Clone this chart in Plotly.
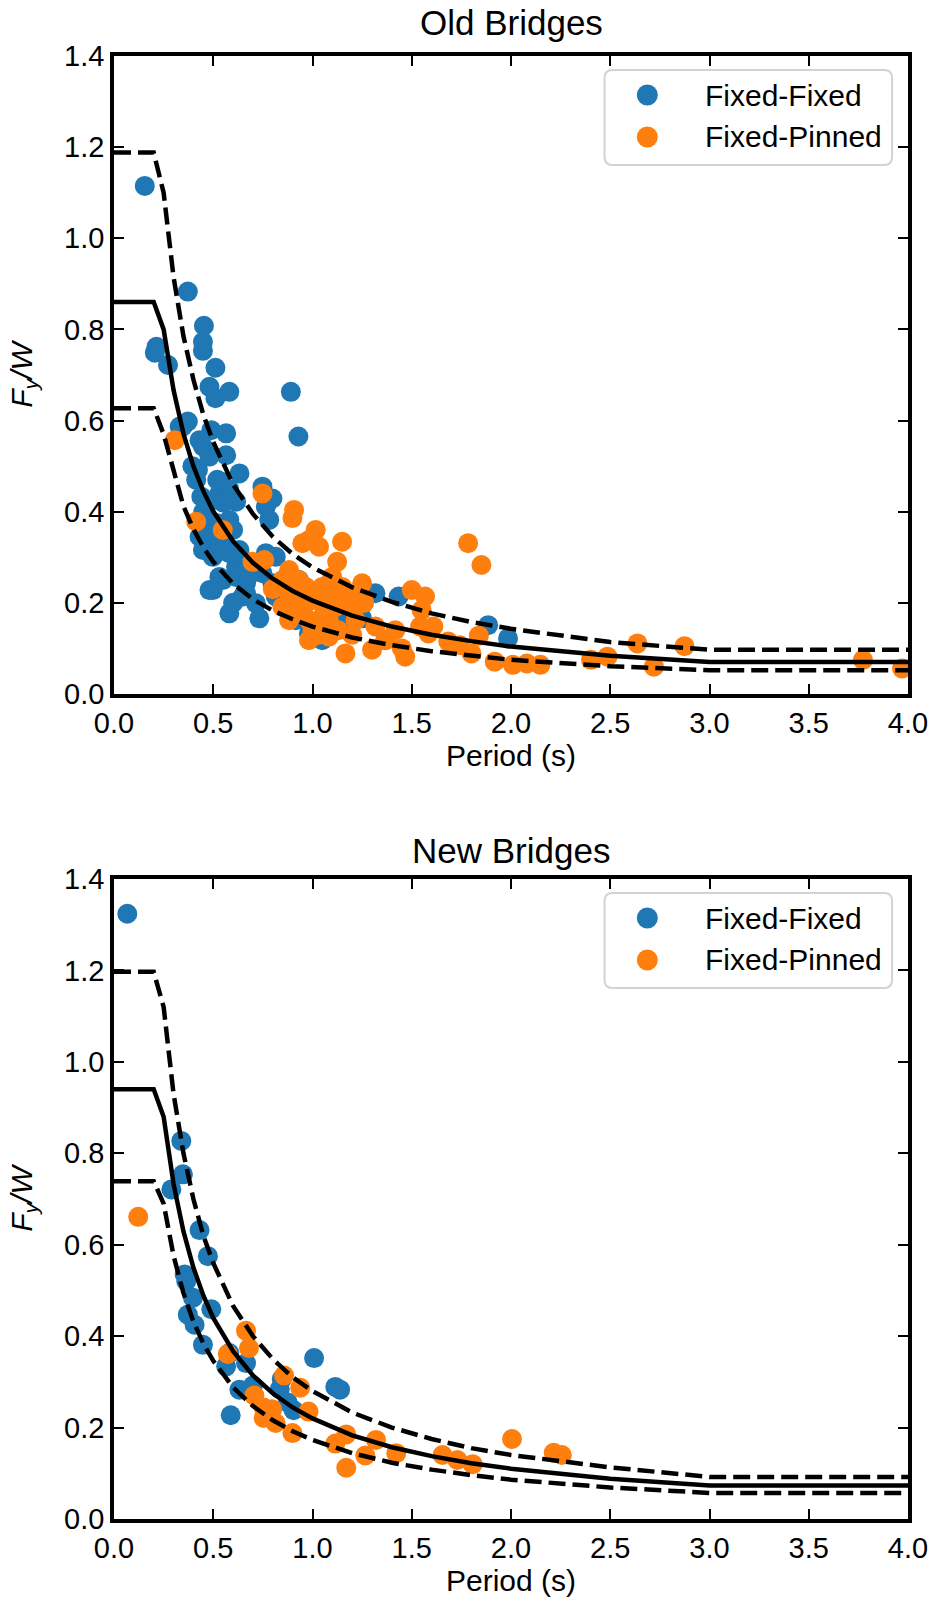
import plotly.graph_objects as go

# ---------------- data ----------------
# Periods at which the fitted strength curves are tabulated (s)
period_grid = [0.0, 0.2, 0.25, 0.3, 0.35, 0.4, 0.45, 0.5, 0.6, 0.7, 0.8, 0.9,
               1.0, 1.2, 1.4, 1.6, 1.8, 2.0, 2.5, 3.0, 4.0]

# Old bridges: median fit and +/- band
old_mean = [0.86, 0.86, 0.80, 0.667, 0.571, 0.50, 0.445, 0.401, 0.335, 0.288, 0.253, 0.226,
            0.205, 0.172, 0.148, 0.130, 0.116, 0.104, 0.084, 0.070, 0.070]
old_upper = [1.188, 1.188, 1.10, 0.915, 0.785, 0.69, 0.613, 0.553, 0.46, 0.395, 0.345, 0.307,
             0.278, 0.234, 0.202, 0.177, 0.158, 0.143, 0.114, 0.097, 0.097]
old_lower = [0.627, 0.627, 0.57, 0.49, 0.412, 0.362, 0.322, 0.29, 0.242, 0.208, 0.183, 0.164,
             0.148, 0.124, 0.107, 0.094, 0.084, 0.075, 0.061, 0.052, 0.052]

# New bridges: median fit and +/- band
new_mean = [0.94, 0.94, 0.88, 0.733, 0.629, 0.55, 0.489, 0.44, 0.367, 0.314, 0.275, 0.244,
            0.22, 0.183, 0.157, 0.1375, 0.122, 0.11, 0.088, 0.0733, 0.0733]
new_upper = [1.197, 1.197, 1.12, 0.93, 0.80, 0.70, 0.62, 0.56, 0.466, 0.40, 0.35, 0.31,
             0.28, 0.233, 0.20, 0.175, 0.155, 0.14, 0.113, 0.092, 0.092]
new_lower = [0.739, 0.739, 0.69, 0.576, 0.494, 0.432, 0.384, 0.346, 0.288, 0.247, 0.216, 0.192,
             0.173, 0.144, 0.123, 0.108, 0.096, 0.086, 0.069, 0.057, 0.057]

# Old bridges, Fixed-Fixed columns: period (s) and Fy/W
old_ff_T = [0.155, 0.372, 0.453, 0.448, 0.448, 0.214, 0.206, 0.272, 0.511, 0.481, 0.581, 0.511,
            0.891, 0.929, 0.372, 0.331, 0.49, 0.565, 0.448, 0.565, 0.423, 0.632, 0.414, 0.54,
            0.748, 0.531, 0.44, 0.615, 0.798, 0.765, 0.782, 0.581, 0.47, 0.431, 0.448, 0.565,
            0.498, 0.598, 0.815, 0.748, 0.615, 0.531, 0.481, 0.548, 0.665, 0.648, 0.581, 0.732,
            0.815, 0.932, 0.916, 0.982, 1.049, 1.317, 1.434, 1.367, 1.25, 0.431, 0.481, 0.515,
            0.465, 0.515, 0.531, 0.581, 0.632, 0.765, 0.498, 0.615, 0.665, 0.715, 0.798, 1.885,
            1.985, 1.066, 0.60, 1.10, 1.15, 0.95, 0.347, 0.395,
            0.50, 0.55, 0.45, 0.60, 0.52, 0.58, 0.68]
old_ff_fy = [1.115, 0.883, 0.808, 0.773, 0.753, 0.762, 0.749, 0.722, 0.716, 0.674, 0.663, 0.649,
             0.663, 0.565, 0.598, 0.587, 0.579, 0.572, 0.543, 0.524, 0.492, 0.484, 0.47, 0.466,
             0.455, 0.44, 0.433, 0.422, 0.429, 0.411, 0.382, 0.382, 0.37, 0.345, 0.316, 0.323,
             0.301, 0.309, 0.301, 0.265, 0.279, 0.257, 0.228, 0.25, 0.243, 0.214, 0.177, 0.166,
             0.214, 0.25, 0.162, 0.133, 0.118, 0.221, 0.214, 0.118, 0.166, 0.557, 0.521, 0.426,
             0.389, 0.375, 0.331, 0.309, 0.316, 0.309, 0.228, 0.257, 0.221, 0.199, 0.243, 0.151,
             0.122, 0.126, 0.20, 0.14, 0.16, 0.20, 0.587, 0.50,
             0.35, 0.42, 0.40, 0.36, 0.47, 0.45, 0.26]

# Old bridges, Fixed-Pinned columns
old_fp_T = [0.306, 0.414, 0.548, 0.748, 0.698, 0.757, 0.907, 0.899, 1.016, 0.982, 0.949, 1.033,
            1.149, 1.124, 1.099, 0.882, 0.849, 1.25, 1.233, 1.149, 1.049, 0.966, 0.882, 0.849,
            0.916, 1.016, 1.116, 0.882, 0.982, 1.083, 1.217, 1.317, 0.982, 1.083, 1.166, 1.30,
            1.467, 1.417, 1.50, 1.567, 1.55, 1.609, 1.542, 1.584, 1.784, 1.851, 1.367, 1.684,
            1.743, 1.801, 1.838, 1.918, 2.01, 2.08, 2.148, 2.403, 2.486, 2.637, 2.72, 2.874,
            3.773, 3.97, 1.45, 0.89, 0.95, 1.05, 1.0, 1.2, 1.15, 1.26, 0.80,
            1.05, 1.10, 0.93, 1.20, 1.13, 1.03, 1.25, 0.97]
old_fp_fy = [0.557, 0.378, 0.36, 0.44, 0.29, 0.294, 0.404, 0.386, 0.36, 0.338, 0.331, 0.323,
             0.334, 0.29, 0.257, 0.272, 0.25, 0.243, 0.221, 0.235, 0.235, 0.235, 0.221, 0.191,
             0.191, 0.206, 0.191, 0.162, 0.162, 0.162, 0.162, 0.148, 0.118, 0.126, 0.089, 0.097,
             0.082, 0.14, 0.228, 0.214, 0.184, 0.148, 0.148, 0.133, 0.331, 0.283, 0.118, 0.115,
             0.107, 0.089, 0.128, 0.071, 0.064, 0.067, 0.064, 0.075, 0.082, 0.111, 0.06, 0.105,
             0.075, 0.056, 0.10, 0.21, 0.18, 0.20, 0.14, 0.13, 0.21, 0.20, 0.23,
             0.17, 0.22, 0.25, 0.19, 0.14, 0.13, 0.20, 0.20]

# New bridges, Fixed-Fixed columns
new_ff_T = [0.067, 0.339, 0.347, 0.289, 0.431, 0.473, 0.356, 0.364, 0.398, 0.49, 0.372, 0.406,
            0.448, 0.565, 0.665, 0.632, 0.70, 0.835, 1.008, 1.115, 1.139, 0.588, 0.905, 0.845,
            0.875, 0.581]
new_ff_fy = [1.324, 0.827, 0.754, 0.721, 0.632, 0.575, 0.535, 0.52, 0.484, 0.459, 0.447, 0.425,
             0.381, 0.334, 0.341, 0.283, 0.292, 0.284, 0.352, 0.289, 0.283, 0.227, 0.238, 0.306,
             0.255, 0.363]

# New bridges, Fixed-Pinned columns
new_fp_T = [0.122, 0.665, 0.68, 0.573, 0.857, 0.938, 0.707, 0.754, 0.754, 0.797, 0.814, 0.899,
            0.98, 1.115, 1.17, 1.17, 1.266, 1.32, 1.422, 1.655, 1.73, 1.807, 2.005, 2.215, 2.256]
new_fp_fy = [0.661, 0.412, 0.374, 0.361, 0.314, 0.287, 0.27, 0.244, 0.221, 0.24, 0.21, 0.188,
             0.235, 0.165, 0.185, 0.112, 0.139, 0.173, 0.144, 0.14, 0.129, 0.12, 0.175, 0.145, 0.14]

panel_titles = ["Old Bridges", "New Bridges"]
series_names = ["Fixed-Fixed", "Fixed-Pinned"]
x_ticks = [0.0, 0.5, 1.0, 1.5, 2.0, 2.5, 3.0, 3.5, 4.0]
y_ticks = [0.0, 0.2, 0.4, 0.6, 0.8, 1.0, 1.2, 1.4]

# ---------------- style / layout ----------------
BLUE = "#1f77b4"
ORANGE = "#ff7f0e"
FONT = "Liberation Sans, Arial, Helvetica, sans-serif"

W, H = 940, 1604
ML, MR, MT, MB = 114, 28, 56, 85
PLOT_W = W - ML - MR
PLOT_H = H - MT - MB


def px_x(p):
    return (p - ML) / PLOT_W


def px_y(p):
    return (H - MB - p) / PLOT_H


# pixel rows of each panel's plot area (top, bottom)
panel_rows = [(56, 694), (879, 1519)]

panels = [
    dict(ff=(old_ff_T, old_ff_fy), fp=(old_fp_T, old_fp_fy),
         curves=(old_lower, old_mean, old_upper)),
    dict(ff=(new_ff_T, new_ff_fy), fp=(new_fp_T, new_fp_fy),
         curves=(new_lower, new_mean, new_upper)),
]

fig = go.Figure()

for i, pnl in enumerate(panels):
    xa = "x" if i == 0 else "x2"
    ya = "y" if i == 0 else "y2"
    for (tv, fv), color, name in zip((pnl["ff"], pnl["fp"]), (BLUE, ORANGE), series_names):
        fig.add_trace(go.Scatter(
            x=tv, y=fv, mode="markers", name=name, showlegend=False,
            marker=dict(size=20, color=color, line=dict(width=0)),
            xaxis=xa, yaxis=ya, cliponaxis=True))
    lower, mean, upper = pnl["curves"]
    for vals, dash in ((lower, "17px,7px"), (mean, "solid"), (upper, "17px,7px")):
        fig.add_trace(go.Scatter(
            x=period_grid, y=vals, mode="lines", showlegend=False,
            line=dict(color="black", width=4.5, dash=dash),
            xaxis=xa, yaxis=ya))

axis_common = dict(
    showline=True, linewidth=3.5, linecolor="black", mirror="ticks",
    ticks="inside", ticklen=10, tickwidth=2, tickcolor="black",
    showgrid=False, zeroline=False,
    tickfont=dict(family=FONT, size=29, color="black"),
)

layout = dict(
    width=W, height=H, autosize=False,
    margin=dict(l=ML, r=MR, t=MT, b=MB, pad=0),
    paper_bgcolor="white", plot_bgcolor="white",
    font=dict(family=FONT, color="black"),
    showlegend=False,
)

for i, (top, bot) in enumerate(panel_rows):
    sfx = "" if i == 0 else "2"
    layout["xaxis" + sfx] = dict(
        axis_common, domain=[0, 1], anchor="y" + sfx, range=[0, 4],
        tickmode="array", tickvals=x_ticks, ticktext=[f"{v:.1f}" for v in x_ticks],
        title=dict(text="Period (s)", font=dict(family=FONT, size=30, color="black"), standoff=6),
    )
    layout["yaxis" + sfx] = dict(
        axis_common, domain=[px_y(bot), px_y(top)], anchor="x" + sfx, range=[0, 1.4],
        tickmode="array", tickvals=y_ticks, ticktext=[f"{v:.1f}" for v in y_ticks],
        title=dict(text="<i>F</i><sub><i>y</i></sub><i>/W</i>",
                   font=dict(family=FONT, size=30, color="black"), standoff=24),
    )

fig.update_layout(**layout)

annotations = []
shapes = []
title_centres = [22.5, 850]


def rounded_box(x0, y0, x1, y1, r):
    pts = [
        f"M {px_x(x0 + r)},{px_y(y0)}",
        f"L {px_x(x1 - r)},{px_y(y0)}",
        f"Q {px_x(x1)},{px_y(y0)} {px_x(x1)},{px_y(y0 + r)}",
        f"L {px_x(x1)},{px_y(y1 - r)}",
        f"Q {px_x(x1)},{px_y(y1)} {px_x(x1 - r)},{px_y(y1)}",
        f"L {px_x(x0 + r)},{px_y(y1)}",
        f"Q {px_x(x0)},{px_y(y1)} {px_x(x0)},{px_y(y1 - r)}",
        f"L {px_x(x0)},{px_y(y0 + r)}",
        f"Q {px_x(x0)},{px_y(y0)} {px_x(x0 + r)},{px_y(y0)}",
        "Z",
    ]
    return " ".join(pts)


for i, (top, bot) in enumerate(panel_rows):
    annotations.append(dict(
        text=panel_titles[i], xref="paper", yref="paper", x=0.5, y=px_y(title_centres[i]),
        xanchor="center", yanchor="middle", showarrow=False,
        font=dict(family=FONT, size=35, color="black")))

    # legend frame
    shapes.append(dict(
        type="path", xref="paper", yref="paper",
        path=rounded_box(607, top + 14, 896, top + 109, 8),
        fillcolor="rgba(255,255,255,0.8)", line=dict(color="#d3d3d3", width=2),
        layer="above"))
    for k, (color, name) in enumerate(zip((BLUE, ORANGE), series_names)):
        yc = top + 39 + 42 * k
        shapes.append(dict(
            type="circle", xref="paper", yref="paper",
            xsizemode="pixel", ysizemode="pixel",
            xanchor=px_x(650), yanchor=px_y(yc),
            x0=-10.5, x1=10.5, y0=-10.5, y1=10.5,
            fillcolor=color, line=dict(width=0), layer="above"))
        annotations.append(dict(
            text=name, xref="paper", yref="paper", x=px_x(706), y=px_y(yc),
            xanchor="left", yanchor="middle", showarrow=False,
            font=dict(family=FONT, size=30, color="black")))

fig.update_layout(annotations=annotations, shapes=shapes)

fig.write_html("out.html")
